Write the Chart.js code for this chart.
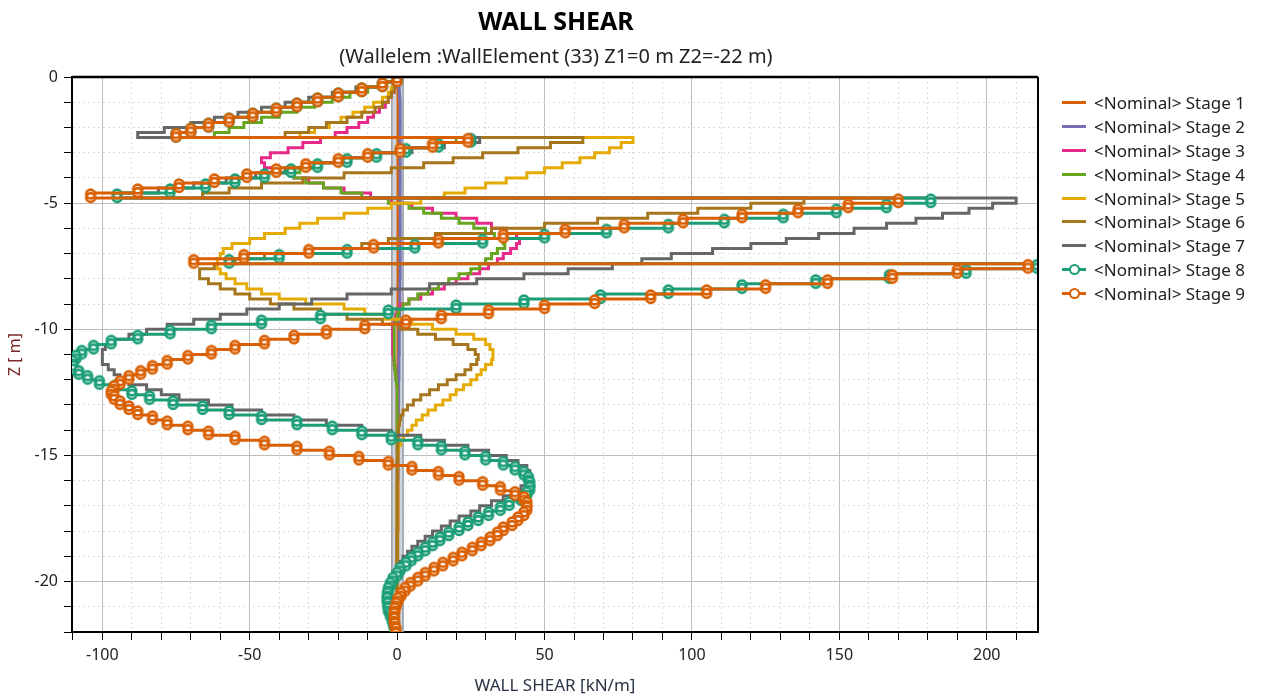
<!DOCTYPE html>
<html>
<head>
<meta charset="utf-8">
<script src="https://cdn.jsdelivr.net/npm/chart.js@4.4.1/dist/chart.umd.min.js"></script>
<style>
  body { margin: 0; background: #fff; font-family: 'Noto Sans', sans-serif; }
  #wrap { position: relative; width: 1264px; height: 696px; overflow: hidden; }
  #chart { position: absolute; left: 0; top: 0; }
  .title { position: absolute; left: 56px; width: 1000px; text-align: center; color: #000; }
  #t1 { top: 3px; font-size: 25px; font-weight: bold; }
  #t2 { top: 42px; font-size: 20px; color: #222; }
  #legend { position: absolute; left: 1062px; top: 91px; }
  .item { position: relative; height: 23.9px; font-size: 17px; color: #222; white-space: nowrap; }
  .item span { position: absolute; left: 32px; top: 0; line-height: 23px; }
  .sw { position: absolute; left: 0; top: 10px; width: 24px; height: 3px; }
  .ring { position: absolute; left: 7px; top: 6px; width: 7px; height: 7px; border-radius: 50%; background: #fff; border: 2px solid; }
</style>
</head>
<body>
<div id="wrap">
  <canvas id="chart" width="1264" height="696"></canvas>
  <div class="title" id="t1">WALL SHEAR</div>
  <div class="title" id="t2">(Wallelem :WallElement (33) Z1=0 m Z2=-22 m)</div>
  <div id="legend"></div>
</div>
<script>
// element tops along the wall [m], last entry closes the final element
const Z = [
  0, -0.2, -0.4, -0.6, -0.8, -1, -1.2, -1.4, -1.6, -1.8,
  -2, -2.2, -2.4, -2.6, -2.8, -3, -3.2, -3.4, -3.6, -3.8,
  -4, -4.2, -4.4, -4.6, -4.8, -5, -5.2, -5.4, -5.6, -5.8,
  -6, -6.2, -6.4, -6.6, -6.8, -7, -7.2, -7.4, -7.6, -7.8,
  -8, -8.2, -8.4, -8.6, -8.8, -9, -9.2, -9.4, -9.6, -9.8,
  -10, -10.2, -10.4, -10.6, -10.8, -11, -11.2, -11.4, -11.6, -11.8,
  -12, -12.2, -12.4, -12.6, -12.8, -13, -13.2, -13.4, -13.6, -13.8,
  -14, -14.2, -14.4, -14.6, -14.8, -15, -15.2, -15.4, -15.6, -15.8,
  -16, -16.2, -16.4, -16.6, -16.8, -17, -17.2, -17.4, -17.6, -17.8,
  -18, -18.2, -18.4, -18.6, -18.8, -19, -19.2, -19.4, -19.6, -19.8,
  -20, -20.2, -20.4, -20.6, -20.8, -21, -21.2, -21.4, -21.6, -21.8,
  -22
];

// wall outline (faces) behind the curves
const wallX = [-1.8, -1.8, 2.0, 2.0];
const wallZ = [0, -22, -22, 0];

// wall shear per element [kN/m]
const stage1 = [
  0.3, 0.3, 0.3, 0.3, 0.3, 0.3, 0.3, 0.3, 0.3, 0.3,
  0.3, 0.3, 0.3, 0.3, 0.3, 0.3, 0.3, 0.3, 0.3, 0.3,
  0.3, 0.3, 0.3, 0.3, 0.3, 0.3, 0.3, 0.3, 0.3, 0.3,
  0.3, 0.3, 0.3, 0.3, 0.3, 0.3, 0.3, 0.3, 0.3, 0.3,
  0.3, 0.3, 0.3, 0.3, 0.3, 0.3, 0.3, 0.3, 0.3, 0.3,
  0.3, 0.3, 0.3, 0.3, 0.3, 0.3, 0.3, 0.3, 0.3, 0.3,
  0.3, 0.3, 0.3, 0.3, 0.3, 0.3, 0.3, 0.3, 0.3, 0.3,
  0.3, 0.3, 0.3, 0.3, 0.3, 0.3, 0.3, 0.3, 0.3, 0.3,
  0.3, 0.3, 0.3, 0.3, 0.3, 0.3, 0.3, 0.3, 0.3, 0.3,
  0.2, 0.2, 0.2, 0.2, 0.2, 0.2, 0.2, 0.2, 0.2, 0.2,
  0.1, 0.1, 0.1, 0.1, 0.1, 0.1, 0.1, 0.1, 0.1, 0.1,
  0.1
];
const stage2 = [
  0.5, 0.6, 0.7, 0.8, 0.9, 1, 1, 1, 1, 1,
  1, 1, 1, 1, 1, 1, 1, 1, 1, 1,
  1, 1, 1, 1, 1, 1, 1, 1, 1, 1,
  1, 1, 1, 1, 1, 1, 1, 1, 1, 1,
  0.9, 0.9, 0.9, 0.9, 0.9, 0.8, 0.8, 0.8, 0.8, 0.8,
  0.7, 0.7, 0.7, 0.7, 0.7, 0.6, 0.6, 0.6, 0.6, 0.6,
  0.5, 0.5, 0.5, 0.5, 0.5, 0.4, 0.4, 0.4, 0.4, 0.4,
  0.3, 0.3, 0.3, 0.3, 0.3, 0.2, 0.2, 0.2, 0.2, 0.2,
  0.1, 0.1, 0.1, 0.1, 0.1, 0.1, 0.1, 0.1, 0.1, 0.1,
  0, 0, 0, 0, 0, 0, 0, 0, 0, 0,
  0, 0, 0, 0, 0, 0, 0, 0, 0, 0,
  0
];
const stage3 = [
  0, -0.5, -1, -2, -3, -4, -6, -8, -10, -13,
  -17, -21, -26, -32, -37, -43, -46, -45, -40, -35,
  -30, -25, -18, -9, -2, 5, 12, 20, 27, 32,
  37, 40.5, 41.5, 40.5, 38.5, 36, 34, 31, 28, 24,
  20, 16, 12, 8, 4, 1, 0, -0.5, -1, -1.5,
  -1.5, -1.5, -1.5, -1.5, -1.5, -1.2, -1, -0.8, -0.6, -0.4,
  -0.2, 0, 0, 0, 0, 0, 0, 0, 0, 0,
  0, 0, 0, 0, 0, 0, 0, 0, 0, 0,
  0, 0, 0, 0, 0, 0, 0, 0, 0, 0,
  0, 0, 0, 0, 0, 0, 0, 0, 0, 0,
  0, 0, 0, 0, 0, 0, 0, 0, 0, 0,
  0
];
const stage4 = [
  0, -4, -10, -16, -22, -28, -34, -40, -46, -52,
  -57, -62, 20, 12, 3, -7, -17, -26, -33, -35,
  -31, -25, -19, -12, -3, 4, 9, 15, 21, 26,
  30, 33, 36, 36.5, 34, 32, 30, 28, 25, 21,
  17.5, 14, 10.5, 7, 4, 2, 0.5, 0, -0.5, -1,
  -1, -1, -1, -1, -1, -1, -1, -0.8, -0.6, -0.4,
  -0.2, 0, 0, 0, 0, 0, 0, 0, 0, 0,
  0, 0, 0, 0, 0, 0, 0, 0, 0, 0,
  0, 0, 0, 0, 0, 0, 0, 0, 0, 0,
  0, 0, 0, 0, 0, 0, 0, 0, 0, 0,
  0, 0, 0, 0, 0, 0, 0, 0, 0, 0,
  0
];
const stage5 = [
  0, -1, -2, -3, -5, -8, -11, -15, -19, -23,
  -28, -33, 80, 76, 72, 67, 62, 56, 50, 44,
  37, 30, 23, 16, 8, -2, -10, -18, -27, -33,
  -38, -45, -50, -56, -59, -60, -61, -61, -60, -58,
  -55, -51, -46, -40, -31, -18, -11, -4, 5, 12,
  20, 26, 30, 31.5, 32.5, 32.5, 32, 30, 28.5, 27,
  25, 22.5, 20, 18, 15.5, 13, 10.5, 8.5, 6.5, 5,
  3.5, 2.2, 1.2, 0.5, 0.3, 0.2, 0.1, 0.1, 0.1, 0.1,
  0, 0, 0, 0, 0, 0, 0, 0, 0, 0,
  0, 0, 0, 0, 0, 0, 0, 0, 0, 0,
  0, 0, 0, 0, 0, 0, 0, 0, 0, 0,
  0
];
const stage6 = [
  0, -0.5, -1, -2, -3, -5, -7.5, -12, -17, -24,
  -30, -38, 63, 52, 41, 29, 19, 9, -2, -18,
  -32, -46, -57, -66, 138, 120, 102, 85, 68, 50,
  32, 13, -3, -12, -30, -45, -55, -62, -67, -67,
  -64, -60, -55, -50, -43, -35, -26, -17, -5, 1,
  7, 13, 19, 24, 26.5, 27.5, 27, 25, 23, 20,
  17, 14, 11, 8, 5.5, 3.5, 2, 1.2, 0.8, 0.5,
  0.4, 0.3, 0.3, 0.2, 0.2, 0.2, 0.1, 0.1, 0.1, 0.1,
  0, 0, 0, 0, 0, 0, 0, 0, 0, 0,
  0, 0, 0, 0, 0, 0, 0, 0, 0, 0,
  0, 0, 0, 0, 0, 0, 0, 0, 0, 0,
  0
];
const stage7 = [
  0, -6, -14, -22, -30, -38, -46, -54, -62, -70,
  -79, -88, 28, 16, 5, -6, -17, -28, -38, -48,
  -58, -69, -81, -95, 210, 202, 194, 185, 176, 166,
  155, 143, 132, 120, 107, 93, 83, 73, 58, 43,
  27, 11, -2, -17, -29, -40, -51, -60, -69, -78,
  -85, -91, -96, -99, -100, -100, -100, -98, -96, -94,
  -91, -85, -80, -74, -64, -56, -46, -35, -24, -12,
  -2, 8, 16, 24, 31, 37, 41, 44, 45, 45,
  44, 42, 39, 36, 32, 28, 25, 21, 18, 15,
  12, 9.5, 7, 5, 3.5, 2, 1, 0, -1.4, -2.3,
  -3, -3.3, -3.4, -3.2, -3, -2.3, -1.7, -1.2, -0.7, -0.3,
  -0.3
];
const stage8 = [
  0, -5, -12, -20, -27, -34, -41, -49, -57, -64,
  -70, -75, 25, 14, 3, -7, -17, -27, -36, -45,
  -55, -65, -77, -95, 181, 166, 149, 131, 111, 92,
  71, 50, 29, 6, -17, -40, -57, 217, 193, 167,
  142, 117, 92, 69, 43, 20, -3, -26, -46, -63,
  -77, -88, -97, -103, -107, -109, -110, -110, -108, -105,
  -101, -96, -90, -84, -76, -66, -57, -46, -34, -22,
  -12, -2, 7, 15, 23, 30, 36, 40, 43, 44.5,
  45, 45, 44, 42, 38, 35, 31, 27.5, 24, 21,
  17.5, 14.5, 12, 9.5, 7, 4.8, 3, 1, 0, -1.4,
  -2.3, -3, -3.3, -3.4, -3.2, -3, -2.3, -1.7, -1.2, -0.7,
  -0.7
];
const stage9 = [
  0, -5, -12, -20, -27, -34, -41, -49, -57, -64,
  -70, -75, 24, 12, 1, -10, -20, -31, -41, -51,
  -62, -74, -88, -104, 170, 153, 136, 117, 97, 77,
  57, 36, 14, -8, -30, -52, -69, 214, 190, 168,
  146, 125, 105, 86, 67, 50, 31, 15, 3, -11,
  -24, -35, -45, -55, -63, -71, -78, -83, -87, -91,
  -94, -96, -97, -96, -94, -91, -88, -83, -78, -71,
  -64, -55, -45, -34, -23, -13, -3, 5, 14, 21,
  29, 35, 40, 43, 44, 44, 43, 41, 39, 36,
  34, 31.5, 28.5, 25.5, 22, 19, 15.5, 12.5, 9.5, 7,
  4.5, 2.7, 1.3, 0.3, -0.3, -0.8, -1, -1, -0.8, -0.4,
  -0.4
];

const X_MIN = -110.3;
const X_MAX = 217.4;
const FONT = "'Noto Sans', sans-serif";

const series = [
  { label: '<Nominal> Stage 1', vals: stage1, color: '#D95F02', marks: false },
  { label: '<Nominal> Stage 2', vals: stage2, color: '#7570B3', marks: false },
  { label: '<Nominal> Stage 3', vals: stage3, color: '#E7298A', marks: false },
  { label: '<Nominal> Stage 4', vals: stage4, color: '#66A61E', marks: false },
  { label: '<Nominal> Stage 5', vals: stage5, color: '#E6AB02', marks: false },
  { label: '<Nominal> Stage 6', vals: stage6, color: '#A6761D', marks: false },
  { label: '<Nominal> Stage 7', vals: stage7, color: '#666666', marks: false },
  { label: '<Nominal> Stage 8', vals: stage8, color: '#1B9E77', marks: true },
  { label: '<Nominal> Stage 9', vals: stage9, color: '#D95F02', marks: true },
];

// two stacked rings, one at each end of an element
function ringPair(color) {
  const c = document.createElement('canvas');
  c.width = 16; c.height = 28;
  const g = c.getContext('2d');
  g.lineWidth = 2.6;
  g.fillStyle = '#fff';
  g.strokeStyle = color;
  for (const cy of [15, 18.5]) { g.beginPath(); g.arc(8, cy, 4.4, 0, Math.PI * 2); g.fill(); }
  for (const cy of [15, 18.5]) { g.beginPath(); g.arc(8, cy, 4.4, 0, Math.PI * 2); g.stroke(); }
  return c;
}

const isMajor = (v, step) => Math.abs(v / step - Math.round(v / step)) < 1e-6;

const datasets = series.map((s, i) => ({
  label: s.label,
  data: Z.map((z, k) => ({ x: s.vals[k], y: z })),
  borderColor: s.color,
  backgroundColor: s.color,
  borderWidth: 3,
  stepped: 'after',
  order: series.length - i,
  pointStyle: s.marks ? ringPair(s.color) : 'circle',
  pointRadius: s.marks ? 5 : 0,
  pointHoverRadius: s.marks ? 5 : 0,
}));

datasets.push({
  label: 'wall',
  data: wallX.map((x, k) => ({ x, y: wallZ[k] })),
  borderColor: '#9aa0ab',
  backgroundColor: '#cfd3db',
  borderWidth: 1.6,
  fill: 'shape',
  order: 99,
  pointRadius: 0,
});

const frame = {
  id: 'frame',
  afterDatasetsDraw(chart) {
    const { ctx, chartArea: a } = chart;
    ctx.save();
    ctx.strokeStyle = '#000';
    ctx.lineWidth = 2.5;
    ctx.beginPath();
    ctx.moveTo(a.left, a.top);
    ctx.lineTo(a.right, a.top);
    ctx.stroke();
    ctx.lineWidth = 2;
    ctx.beginPath();
    ctx.moveTo(a.right, a.top);
    ctx.lineTo(a.right, a.bottom);
    ctx.stroke();
    ctx.restore();
  }
};

new Chart(document.getElementById('chart'), {
  type: 'line',
  data: { datasets },
  plugins: [frame],
  options: {
    responsive: false,
    animation: false,
    events: [],
    layout: { padding: { left: 0, top: 77, right: 1264 - 1038, bottom: 0 } },
    plugins: { legend: { display: false }, tooltip: { enabled: false } },
    scales: {
      x: {
        type: 'linear',
        min: X_MIN,
        max: X_MAX,
        afterFit: s => { s.height = 64; },
        ticks: {
          stepSize: 10,
          includeBounds: false,
          autoSkip: false,
          maxRotation: 0,
          padding: 6,
          color: '#222',
          font: { family: FONT, size: 16 },
          callback: v => isMajor(v, 50) ? String(v) : ''
        },
        grid: {
          color: c => (c.tick && isMajor(c.tick.value, 50)) ? '#bdbdbd' : '#dcdcdc',
          lineWidth: 1,
          tickColor: '#000',
          tickLength: 8,
        },
        border: {
          color: '#000',
          width: 2,
          dash: c => (c.tick && !isMajor(c.tick.value, 50)) ? [2, 3] : [],
        },
        title: {
          display: true,
          text: 'WALL SHEAR [kN/m]',
          color: '#2a3545',
          font: { family: FONT, size: 17 },
          padding: { top: 0, bottom: 0 }
        }
      },
      y: {
        type: 'linear',
        min: -22,
        max: 0,
        afterFit: s => { s.width = 72; },
        ticks: {
          stepSize: 1,
          includeBounds: false,
          autoSkip: false,
          padding: 6,
          color: '#222',
          font: { family: FONT, size: 16 },
          callback: v => isMajor(v, 5) ? String(v) : ''
        },
        grid: {
          color: c => (c.tick && isMajor(c.tick.value, 5)) ? '#bdbdbd' : '#dcdcdc',
          lineWidth: 1,
          tickColor: '#000',
          tickLength: 8,
        },
        border: {
          color: '#000',
          width: 2,
          dash: c => (c.tick && !isMajor(c.tick.value, 5)) ? [2, 3] : [],
        },
        title: {
          display: true,
          text: 'Z [ m]',
          color: '#7a2a2a',
          font: { family: FONT, size: 16 },
          padding: { top: 6, bottom: 0 }
        }
      }
    }
  }
});

// legend
const leg = document.getElementById('legend');
for (const s of series) {
  const row = document.createElement('div');
  row.className = 'item';
  const sw = document.createElement('div');
  sw.className = 'sw';
  sw.style.background = s.color;
  row.appendChild(sw);
  if (s.marks) {
    const r = document.createElement('div');
    r.className = 'ring';
    r.style.borderColor = s.color;
    row.appendChild(r);
  }
  const t = document.createElement('span');
  t.textContent = s.label;
  row.appendChild(t);
  leg.appendChild(row);
}
</script>
</body>
</html>
